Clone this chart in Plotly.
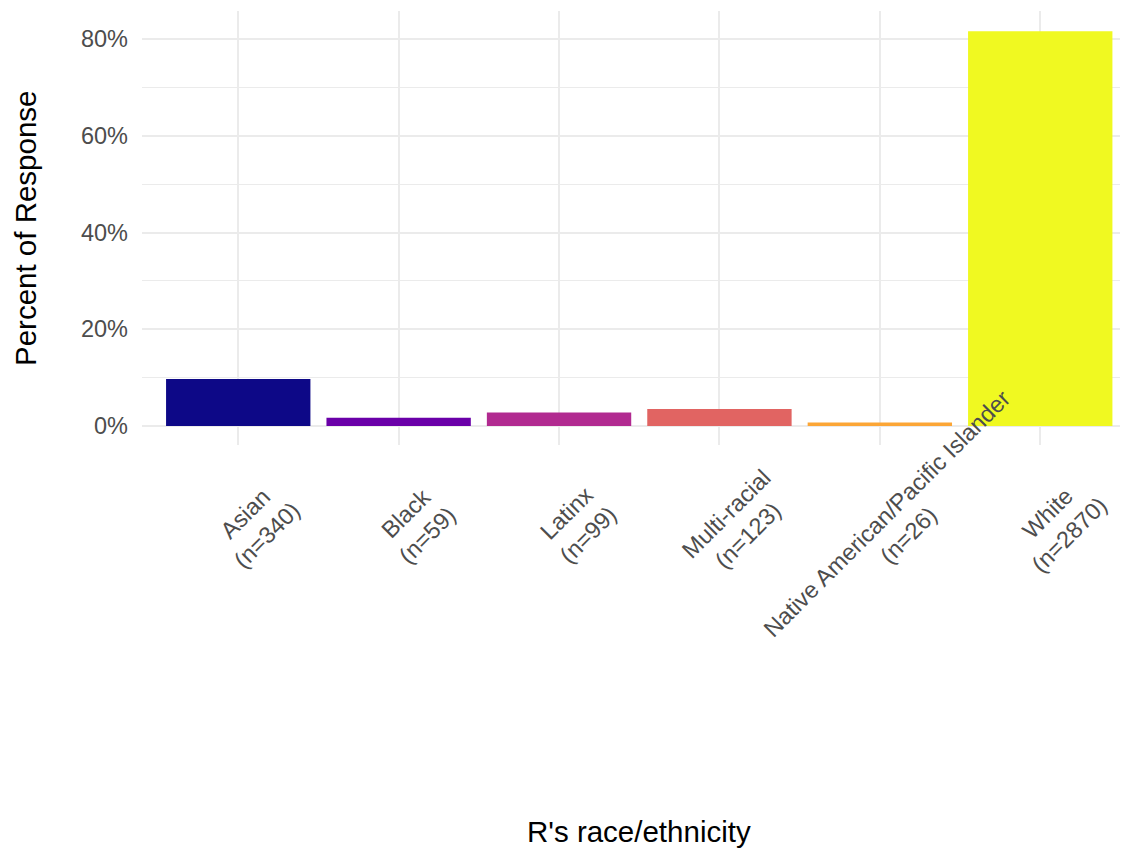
import plotly.graph_objects as go

categories = ["Asian", "Black", "Latinx", "Multi-racial",
              "Native American/Pacific Islander", "White"]
counts = [340, 59, 99, 123, 26, 2870]
percent = [9.7, 1.7, 2.8, 3.5, 0.7, 81.6]
colors = ["#0D0887", "#6A00A8", "#B12A90", "#E16462", "#FCA636", "#F0F921"]
y_ticks = [0, 20, 40, 60, 80]
y_tick_labels = ["0%", "20%", "40%", "60%", "80%"]

FONT = "Liberation Sans, Arial, sans-serif"
TICK_SIZE = 23.5
TITLE_SIZE = 29.5

# the page body adds an 8px margin, so the figure is placed at (8, 8)
OFF = 8
W, H = 1128 - OFF, 848 - OFF
L, R, T = 142 - OFF, 0, 11 - OFF
PLOT_H = 434
B = H - T - PLOT_H
px_per_unit = 160.4
x_lo = -0.6
x_hi = x_lo + (W - L - R) / px_per_unit

fig = go.Figure()
fig.add_trace(go.Bar(
    x=list(range(len(categories))), y=percent,
    marker=dict(color=colors, line=dict(width=0)),
    width=0.9, showlegend=False,
    hovertext=[f"{c} (n={n})" for c, n in zip(categories, counts)],
))

annotations = []
for i, (c, n) in enumerate(zip(categories, counts)):
    annotations.append(dict(
        text=f"{c}<br>(n={n})", xref="x", yref="paper",
        x=i + 18 / px_per_unit, y=0, yshift=-79,
        xanchor="center", yanchor="middle", align="center",
        textangle=-45, showarrow=False,
        font=dict(family=FONT, size=TICK_SIZE, color="#4D4D4D"),
    ))
# axis titles
annotations.append(dict(
    text="R's race/ethnicity", xref="x", yref="paper",
    x=2.5, y=0, yshift=-(831 - 445), xanchor="center", yanchor="middle",
    showarrow=False, font=dict(family=FONT, size=TITLE_SIZE, color="#000000"),
))
annotations.append(dict(
    text="Percent of Response", xref="paper", yref="paper",
    x=0, xshift=25 - 142, y=0.5, xanchor="center", yanchor="middle",
    textangle=-90, showarrow=False,
    font=dict(family=FONT, size=TITLE_SIZE, color="#000000"),
))

fig.update_layout(
    width=W, height=H,
    margin=dict(l=L, r=R, t=T, b=B, pad=0),
    paper_bgcolor="white", plot_bgcolor="white",
    bargap=0.1,
    annotations=annotations,
    xaxis=dict(
        range=[x_lo, x_hi], tickmode="array",
        tickvals=list(range(len(categories))), ticktext=[""] * len(categories),
        showgrid=True, gridcolor="#EBEBEB", gridwidth=2.2,
        zeroline=False, showline=False, ticks="",
    ),
    yaxis=dict(
        range=[-3.93, 85.8], tickmode="array",
        tickvals=y_ticks, ticktext=y_tick_labels,
        showgrid=True, gridcolor="#EBEBEB", gridwidth=2.2,
        minor=dict(dtick=10, tick0=0, showgrid=True, gridcolor="#EBEBEB", gridwidth=1.1),
        zeroline=False, showline=False, ticks="",
        ticklabelstandoff=13,
        tickfont=dict(family=FONT, size=TICK_SIZE, color="#4D4D4D"),
    ),
)

fig.write_html("out.html")
